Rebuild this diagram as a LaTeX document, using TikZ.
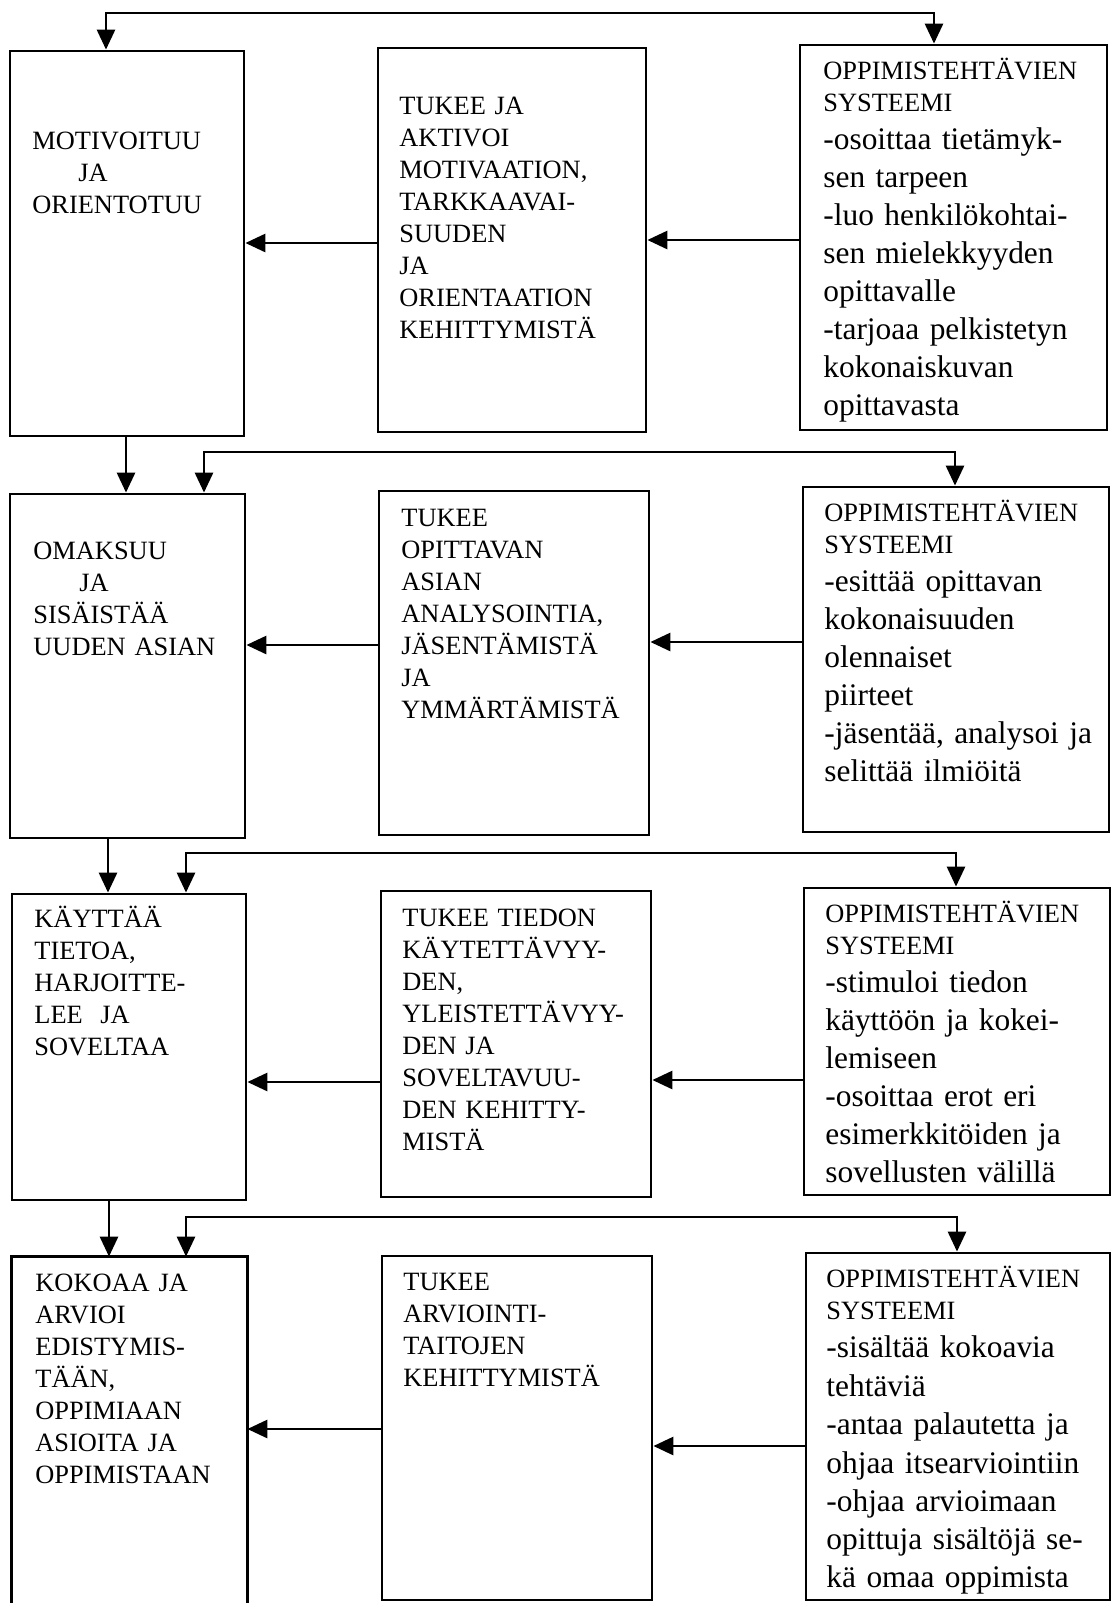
\documentclass[tikz,border=0pt]{standalone}
\usepackage{fontspec}
\setmainfont{Liberation Serif}
\usetikzlibrary{arrows.meta,fit}
\begin{document}
\begin{tikzpicture}[x=0.5pt,y=-0.5pt,
  bx/.style={draw, line width=1.4pt, inner sep=0pt, rectangle},
  openbx/.style={draw=none, inner sep=0pt, rectangle},
  bline/.style={line width=1.4pt},
  arr/.style={line width=1.4pt, -{Triangle[length=10pt,width=9pt]}},
  dbl/.style={line width=1.4pt, {Triangle[length=10pt,width=9pt]}-{Triangle[length=10pt,width=9pt]}},
  ut/.style={anchor=north west, inner sep=0pt, text width=160pt, align=left, font=\fontsize{13.2}{16}\selectfont},
  ct/.style={anchor=north west, inner sep=0pt, text width=175pt, align=left, font=\fontsize{15.7}{19}\selectfont}]
\useasboundingbox (0,0) rectangle (1112,1603);
\fill[white] (0,0) rectangle (1112,1603);

% boxes
\node[bx, fit={(10,51)(244,436)}] (A1) {};
\node[bx, fit={(378,48)(646,432)}] (B1) {};
\node[bx, fit={(800,45)(1107,430)}] (C1) {};
\node[bx, fit={(10,494)(245,838)}] (A2) {};
\node[bx, fit={(379,491)(649,835)}] (B2) {};
\node[bx, fit={(803,487)(1109,832)}] (C2) {};
\node[bx, fit={(12,894)(246,1200)}] (A3) {};
\node[bx, fit={(381,891)(651,1197)}] (B3) {};
\node[bx, fit={(804,888)(1110,1195)}] (C3) {};
\node[openbx, fit={(12,1257)(247,1603)}] (A4) {};
\draw[bline] (A4.south west) -- (A4.north west) -- (A4.north east) -- (A4.south east);
\node[bx, fit={(382,1256)(652,1600)}] (B4) {};
\node[bx, fit={(806,1253)(1110,1600)}] (C4) {};

% texts
\node[ut] (A1t) at (32,121) {\rule{0pt}{14pt}MOTIVOITUU\\\hspace*{23pt}JA\\ORIENTOTUU};
\node[ut] (A2t) at (33,531) {\rule{0pt}{14pt}OMAKSUU\\\hspace*{23pt}JA\\SISÄISTÄÄ\\UUDEN ASIAN};
\node[ut] (A3t) at (34,899) {\rule{0pt}{14pt}KÄYTTÄÄ\\TIETOA,\\HARJOITTE-\\LEE\ \ JA\\SOVELTAA};
\node[ut] (A4t) at (35,1263) {\rule{0pt}{14pt}KOKOAA JA\\ARVIOI\\EDISTYMIS-\\TÄÄN,\\OPPIMIAAN\\ASIOITA JA\\OPPIMISTAAN};

\node[ut] (B1t) at (399,86) {\rule{0pt}{14pt}TUKEE JA\\AKTIVOI\\MOTIVAATION,\\TARKKAAVAI-\\SUUDEN\\JA\\ORIENTAATION\\KEHITTYMISTÄ};
\node[ut] (B2t) at (401,498) {\rule{0pt}{14pt}TUKEE\\OPITTAVAN\\ASIAN\\ANALYSOINTIA,\\JÄSENTÄMISTÄ\\JA\\YMMÄRTÄMISTÄ};
\node[ut] (B3t) at (402,898) {\rule{0pt}{14pt}TUKEE TIEDON\\KÄYTETTÄVYY-\\DEN,\\YLEISTETTÄVYY-\\DEN JA\\SOVELTAVUU-\\DEN KEHITTY-\\MISTÄ};
\node[ut] (B4t) at (403,1262) {\rule{0pt}{14pt}TUKEE\\ARVIOINTI-\\TAITOJEN\\KEHITTYMISTÄ};

\node[ct] (C1t) at (823,51) {\parindent=0pt{\fontsize{13.2}{16}\selectfont\rule{0pt}{14pt}OPPIMISTEHTÄVIEN\\SYSTEEMI\par}\fontsize{15.7}{19}\selectfont -osoittaa tietämyk-\\sen tarpeen\\-luo henkilökohtai-\\sen mielekkyyden\\opittavalle\\-tarjoaa pelkistetyn\\kokonaiskuvan\\opittavasta};
\node[ct] (C2t) at (824,493) {\parindent=0pt{\fontsize{13.2}{16}\selectfont\rule{0pt}{14pt}OPPIMISTEHTÄVIEN\\SYSTEEMI\par}\fontsize{15.7}{19}\selectfont -esittää opittavan\\kokonaisuuden\\olennaiset\\piirteet\\-jäsentää, analysoi ja\\selittää ilmiöitä};
\node[ct] (C3t) at (825,894) {\parindent=0pt{\fontsize{13.2}{16}\selectfont\rule{0pt}{14pt}OPPIMISTEHTÄVIEN\\SYSTEEMI\par}\fontsize{15.7}{19}\selectfont -stimuloi tiedon\\käyttöön ja kokei-\\lemiseen\\-osoittaa erot eri\\esimerkkitöiden ja\\sovellusten välillä};
\node[ct] (C4t) at (826,1259) {\parindent=0pt{\fontsize{13.2}{16}\selectfont\rule{0pt}{14pt}OPPIMISTEHTÄVIEN\\SYSTEEMI\par}\fontsize{15.7}{19.2}\selectfont -sisältää kokoavia\\tehtäviä\\-antaa palautetta ja\\ohjaa itsearviointiin\\-ohjaa arvioimaan\\opittuja sisältöjä se-\\kä omaa oppimista};

% horizontal arrows
\draw[arr] (B1.west |- 0,243) -- (A1.east |- 0,243);
\draw[arr] (C1.west |- 0,240) -- (B1.east |- 0,240);
\draw[arr] (B2.west |- 0,645) -- (A2.east |- 0,645);
\draw[arr] (C2.west |- 0,642) -- (B2.east |- 0,642);
\draw[arr] (B3.west |- 0,1082) -- (A3.east |- 0,1082);
\draw[arr] (C3.west |- 0,1080) -- (B3.east |- 0,1080);
\draw[arr] (B4.west |- 0,1429) -- (A4.east |- 0,1429);
\draw[arr] (C4.west |- 0,1446) -- (B4.east |- 0,1446);

% vertical arrows
\draw[arr] (A1.south -| 126,0) -- (A2.north -| 126,0);
\draw[arr] (A2.south -| 108,0) -- (A3.north -| 108,0);
\draw[arr] (A3.south -| 109,0) -- (A4.north -| 109,0);

% loops
\draw[dbl] (A1.north -| 106,0) -- (106,13) -- (934,13) -- (C1.north -| 934,0);
\draw[dbl] (A2.north -| 204,0) -- (204,452) -- (955,452) -- (C2.north -| 955,0);
\draw[dbl] (A3.north -| 186,0) -- (186,853) -- (956,853) -- (C3.north -| 956,0);
\draw[dbl] (A4.north -| 186,0) -- (186,1217) -- (957,1217) -- (C4.north -| 957,0);
\end{tikzpicture}
\end{document}
